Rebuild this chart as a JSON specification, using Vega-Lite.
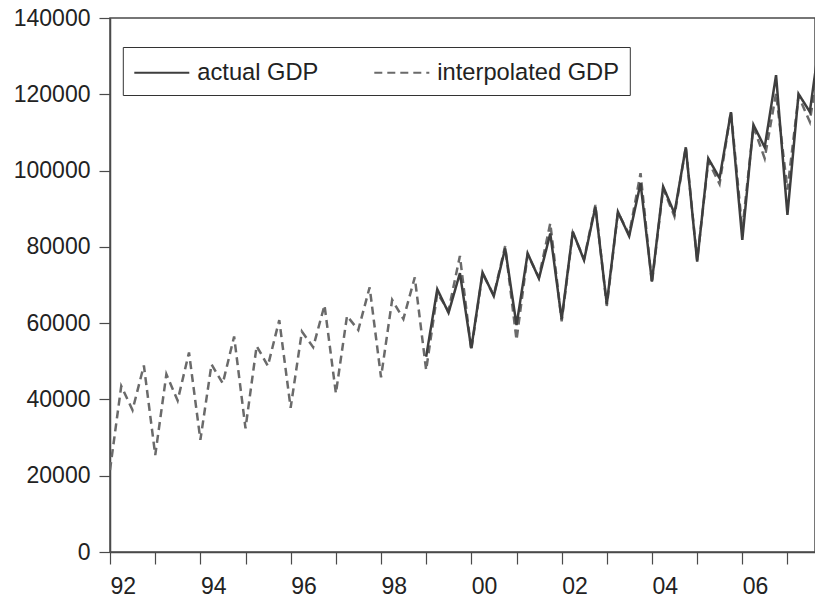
{
  "$schema": "https://vega.github.io/schema/vega-lite/v6.json",
  "autosize": "none",
  "padding": {"left": 110, "top": 18, "right": 0, "bottom": 47},
  "width": 705,
  "height": 534,
  "background": "white",
  "config": {
    "font": "Liberation Sans",
    "view": {"stroke": "#4a4a4a", "strokeWidth": 1.5},
    "axis": {"grid": false, "domainColor": "#4a4a4a", "domainWidth": 1.5, "tickColor": "#4a4a4a", "tickWidth": 1.2, "labelColor": "#222222", "labelFont": "Liberation Sans", "labelFontSize": 23, "title": null}
  },
  "data": {"values": [
    {"date": "1992-01-01", "series": "interpolated GDP", "gdp": 21500},
    {"date": "1992-04-01", "series": "interpolated GDP", "gdp": 43500},
    {"date": "1992-07-01", "series": "interpolated GDP", "gdp": 37200},
    {"date": "1992-10-01", "series": "interpolated GDP", "gdp": 48900},
    {"date": "1993-01-01", "series": "interpolated GDP", "gdp": 25400},
    {"date": "1993-04-01", "series": "interpolated GDP", "gdp": 46600},
    {"date": "1993-07-01", "series": "interpolated GDP", "gdp": 39700},
    {"date": "1993-10-01", "series": "interpolated GDP", "gdp": 52300},
    {"date": "1994-01-01", "series": "interpolated GDP", "gdp": 29400},
    {"date": "1994-04-01", "series": "interpolated GDP", "gdp": 49200},
    {"date": "1994-07-01", "series": "interpolated GDP", "gdp": 44200},
    {"date": "1994-10-01", "series": "interpolated GDP", "gdp": 56500},
    {"date": "1995-01-01", "series": "interpolated GDP", "gdp": 32400},
    {"date": "1995-04-01", "series": "interpolated GDP", "gdp": 54000},
    {"date": "1995-07-01", "series": "interpolated GDP", "gdp": 48800},
    {"date": "1995-10-01", "series": "interpolated GDP", "gdp": 60800},
    {"date": "1996-01-01", "series": "interpolated GDP", "gdp": 37800},
    {"date": "1996-04-01", "series": "interpolated GDP", "gdp": 57800},
    {"date": "1996-07-01", "series": "interpolated GDP", "gdp": 53700},
    {"date": "1996-10-01", "series": "interpolated GDP", "gdp": 64700},
    {"date": "1997-01-01", "series": "interpolated GDP", "gdp": 41600},
    {"date": "1997-04-01", "series": "interpolated GDP", "gdp": 61900},
    {"date": "1997-07-01", "series": "interpolated GDP", "gdp": 58200},
    {"date": "1997-10-01", "series": "interpolated GDP", "gdp": 69400},
    {"date": "1998-01-01", "series": "interpolated GDP", "gdp": 45800},
    {"date": "1998-04-01", "series": "interpolated GDP", "gdp": 66100},
    {"date": "1998-07-01", "series": "interpolated GDP", "gdp": 61100},
    {"date": "1998-10-01", "series": "interpolated GDP", "gdp": 72000},
    {"date": "1999-01-01", "series": "interpolated GDP", "gdp": 47700},
    {"date": "1999-04-01", "series": "interpolated GDP", "gdp": 67800},
    {"date": "1999-07-01", "series": "interpolated GDP", "gdp": 63300},
    {"date": "1999-10-01", "series": "interpolated GDP", "gdp": 77600},
    {"date": "2000-01-01", "series": "interpolated GDP", "gdp": 52900},
    {"date": "2000-04-01", "series": "interpolated GDP", "gdp": 73000},
    {"date": "2000-07-01", "series": "interpolated GDP", "gdp": 67300},
    {"date": "2000-10-01", "series": "interpolated GDP", "gdp": 80200},
    {"date": "2001-01-01", "series": "interpolated GDP", "gdp": 55600},
    {"date": "2001-04-01", "series": "interpolated GDP", "gdp": 78000},
    {"date": "2001-07-01", "series": "interpolated GDP", "gdp": 72000},
    {"date": "2001-10-01", "series": "interpolated GDP", "gdp": 86200},
    {"date": "2002-01-01", "series": "interpolated GDP", "gdp": 60500},
    {"date": "2002-04-01", "series": "interpolated GDP", "gdp": 83700},
    {"date": "2002-07-01", "series": "interpolated GDP", "gdp": 76800},
    {"date": "2002-10-01", "series": "interpolated GDP", "gdp": 91000},
    {"date": "2003-01-01", "series": "interpolated GDP", "gdp": 64500},
    {"date": "2003-04-01", "series": "interpolated GDP", "gdp": 89000},
    {"date": "2003-07-01", "series": "interpolated GDP", "gdp": 83300},
    {"date": "2003-10-01", "series": "interpolated GDP", "gdp": 99300},
    {"date": "2004-01-01", "series": "interpolated GDP", "gdp": 70500},
    {"date": "2004-04-01", "series": "interpolated GDP", "gdp": 95300},
    {"date": "2004-07-01", "series": "interpolated GDP", "gdp": 88000},
    {"date": "2004-10-01", "series": "interpolated GDP", "gdp": 106200},
    {"date": "2005-01-01", "series": "interpolated GDP", "gdp": 76500},
    {"date": "2005-04-01", "series": "interpolated GDP", "gdp": 102500},
    {"date": "2005-07-01", "series": "interpolated GDP", "gdp": 96500},
    {"date": "2005-10-01", "series": "interpolated GDP", "gdp": 115500},
    {"date": "2006-01-01", "series": "interpolated GDP", "gdp": 84500},
    {"date": "2006-04-01", "series": "interpolated GDP", "gdp": 111500},
    {"date": "2006-07-01", "series": "interpolated GDP", "gdp": 103200},
    {"date": "2006-10-01", "series": "interpolated GDP", "gdp": 120300},
    {"date": "2007-01-01", "series": "interpolated GDP", "gdp": 95000},
    {"date": "2007-04-01", "series": "interpolated GDP", "gdp": 119500},
    {"date": "2007-07-01", "series": "interpolated GDP", "gdp": 112800},
    {"date": "2007-10-01", "series": "interpolated GDP", "gdp": 133000},
    {"date": "1999-01-01", "series": "actual GDP", "gdp": 51200},
    {"date": "1999-04-01", "series": "actual GDP", "gdp": 68900},
    {"date": "1999-07-01", "series": "actual GDP", "gdp": 62700},
    {"date": "1999-10-01", "series": "actual GDP", "gdp": 73100},
    {"date": "2000-01-01", "series": "actual GDP", "gdp": 53400},
    {"date": "2000-04-01", "series": "actual GDP", "gdp": 73300},
    {"date": "2000-07-01", "series": "actual GDP", "gdp": 67100},
    {"date": "2000-10-01", "series": "actual GDP", "gdp": 79600},
    {"date": "2001-01-01", "series": "actual GDP", "gdp": 59500},
    {"date": "2001-04-01", "series": "actual GDP", "gdp": 78300},
    {"date": "2001-07-01", "series": "actual GDP", "gdp": 71700},
    {"date": "2001-10-01", "series": "actual GDP", "gdp": 83500},
    {"date": "2002-01-01", "series": "actual GDP", "gdp": 61000},
    {"date": "2002-04-01", "series": "actual GDP", "gdp": 84000},
    {"date": "2002-07-01", "series": "actual GDP", "gdp": 76500},
    {"date": "2002-10-01", "series": "actual GDP", "gdp": 90500},
    {"date": "2003-01-01", "series": "actual GDP", "gdp": 65000},
    {"date": "2003-04-01", "series": "actual GDP", "gdp": 89200},
    {"date": "2003-07-01", "series": "actual GDP", "gdp": 82800},
    {"date": "2003-10-01", "series": "actual GDP", "gdp": 96700},
    {"date": "2004-01-01", "series": "actual GDP", "gdp": 70900},
    {"date": "2004-04-01", "series": "actual GDP", "gdp": 95800},
    {"date": "2004-07-01", "series": "actual GDP", "gdp": 88800},
    {"date": "2004-10-01", "series": "actual GDP", "gdp": 106100},
    {"date": "2005-01-01", "series": "actual GDP", "gdp": 76100},
    {"date": "2005-04-01", "series": "actual GDP", "gdp": 103200},
    {"date": "2005-07-01", "series": "actual GDP", "gdp": 98000},
    {"date": "2005-10-01", "series": "actual GDP", "gdp": 115300},
    {"date": "2006-01-01", "series": "actual GDP", "gdp": 81800},
    {"date": "2006-04-01", "series": "actual GDP", "gdp": 112000},
    {"date": "2006-07-01", "series": "actual GDP", "gdp": 106100},
    {"date": "2006-10-01", "series": "actual GDP", "gdp": 125000},
    {"date": "2007-01-01", "series": "actual GDP", "gdp": 88400},
    {"date": "2007-04-01", "series": "actual GDP", "gdp": 120100},
    {"date": "2007-07-01", "series": "actual GDP", "gdp": 115400},
    {"date": "2007-10-01", "series": "actual GDP", "gdp": 137000}
  ]},
  "encoding": {
    "x": {
      "field": "date", "type": "temporal",
      "scale": {"type": "utc", "domain": [{"year": 1992, "month": 1, "date": 1, "utc": true}, {"year": 2007, "month": 8, "date": 12, "utc": true}]},
      "axis": {
        "values": [
          {"year": 1992, "month": 1, "date": 1, "utc": true},
          {"year": 1993, "month": 1, "date": 1, "utc": true},
          {"year": 1994, "month": 1, "date": 1, "utc": true},
          {"year": 1995, "month": 1, "date": 1, "utc": true},
          {"year": 1996, "month": 1, "date": 1, "utc": true},
          {"year": 1997, "month": 1, "date": 1, "utc": true},
          {"year": 1998, "month": 1, "date": 1, "utc": true},
          {"year": 1999, "month": 1, "date": 1, "utc": true},
          {"year": 2000, "month": 1, "date": 1, "utc": true},
          {"year": 2001, "month": 1, "date": 1, "utc": true},
          {"year": 2002, "month": 1, "date": 1, "utc": true},
          {"year": 2003, "month": 1, "date": 1, "utc": true},
          {"year": 2004, "month": 1, "date": 1, "utc": true},
          {"year": 2005, "month": 1, "date": 1, "utc": true},
          {"year": 2006, "month": 1, "date": 1, "utc": true},
          {"year": 2007, "month": 1, "date": 1, "utc": true}
        ],
        "labelExpr": "utcyear(datum.value) % 2 == 0 ? utcFormat(datum.value, '%y') : ''",
        "labelAlign": "left",
        "labelBaseline": "top",
        "labelPadding": 11,
        "labelOverlap": false,
        "labelFlush": false,
        "labelBound": false,
        "tickSize": 12
      }
    },
    "y": {
      "field": "gdp", "type": "quantitative",
      "scale": {"domain": [0, 140000], "nice": false, "zero": true},
      "axis": {
        "values": [0, 20000, 40000, 60000, 80000, 100000, 120000, 140000],
        "format": "d",
        "tickSize": 11,
        "labelPadding": 9,
        "labelOverlap": false,
        "labelFlush": false,
        "labelBound": false
      }
    },
    "color": {
      "field": "series", "type": "nominal",
      "scale": {"domain": ["actual GDP", "interpolated GDP"], "range": ["#3e3e3e", "#6a6a6a"]},
      "legend": {
        "orient": "none", "legendX": 12.8, "legendY": 29,
        "direction": "horizontal", "columns": 2, "title": null,
        "strokeColor": "#333333", "fillColor": "white", "padding": 10.5,
        "symbolType": "M-1,0H2.93", "symbolSize": 784, "symbolStrokeWidth": 2,
        "labelFont": "Liberation Sans", "labelFontSize": 23.7, "labelColor": "#222222",
        "labelOffset": 34, "columnPadding": 51, "labelLimit": 400
      }
    },
    "strokeDash": {
      "field": "series", "type": "nominal",
      "scale": {"domain": ["actual GDP", "interpolated GDP"], "range": [[1, 0], [8, 5]]},
      "legend": null
    }
  },
  "layer": [
    {
      "transform": [{"filter": "datum.series == 'interpolated GDP'"}],
      "mark": {"type": "line", "strokeWidth": 2.5, "clip": true}
    },
    {
      "transform": [{"filter": "datum.series == 'actual GDP'"}],
      "mark": {"type": "line", "strokeWidth": 2.5, "clip": true}
    }
  ]
}
